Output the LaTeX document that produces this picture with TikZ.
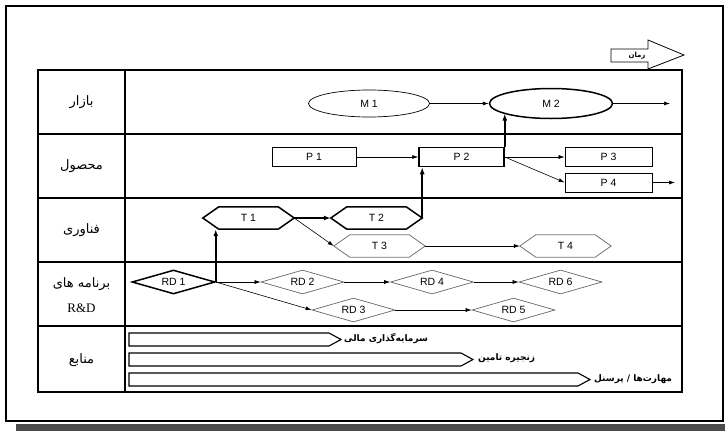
\documentclass[tikz,border=0pt]{standalone}
\usepackage{fontspec}
\setmainfont{Liberation Sans}
\newfontfamily\arabicfont[Script=Arabic]{DejaVu Sans}
\newfontfamily\rdserif{Liberation Serif}
\TeXXeTstate=1
\usetikzlibrary{shapes.geometric,arrows.meta}
\newcommand\hexdraw[2]{\draw[#2] (#1.west) -- ([xshift=16pt]#1.north west) -- ([xshift=-16pt]#1.north east) -- (#1.east) -- ([xshift=-16pt]#1.south east) -- ([xshift=16pt]#1.south west) -- cycle;}
\begin{document}
\begin{tikzpicture}[x=1pt,y=-1pt,
  lbl/.style={font=\arabicfont\fontsize{13}{15}\selectfont, inner sep=0pt},
  reslbl/.style={font=\arabicfont\bfseries\fontsize{9}{10}\selectfont, inner sep=0pt, anchor=west},
  nd/.style={font=\fontsize{10.5}{12}\selectfont, inner sep=0pt},
  box/.style={nd, draw, rectangle, line width=0.7pt, minimum width=85pt, minimum height=19pt},
  ell/.style={nd, draw, ellipse, line width=0.7pt, minimum width=121pt, minimum height=27pt},
  hexnode/.style={nd, minimum width=91pt, minimum height=22pt},
  dia/.style={nd, draw, diamond, aspect=3.4, line width=0.7pt, minimum width=83pt, minimum height=24pt},
  fade/.style={draw=black!60},
  heavy/.style={line width=1.5pt},
  conn/.style={-{Latex[length=6pt,width=4pt]}, line width=0.6pt},
  crit/.style={-{Latex[length=7pt,width=5pt]}, line width=1.6pt},
  grid/.style={line width=1.4pt},
  bar/.style={draw, line width=1.1pt, fill=white}
]
\useasboundingbox (0,0) rectangle (725,431);
% frame and shadow
\fill[black!70] (16,424) rectangle (725,431);
\draw[line width=2pt] (6,6) rectangle (723,421);

% time arrow
\draw[line width=0.8pt] (611,49) -- (648,49) -- (648,40) -- (684,55) -- (648,69) -- (648,62) -- (611,62) -- cycle;
\node[font=\arabicfont\bfseries\fontsize{7}{8}\selectfont, inner sep=0pt] (zaman) at (637,55.5) {\beginR زمان\endR};

% table
\draw[grid] (38,70) rectangle (682,392);
\draw[grid] (125,70) -- (125,392);
\foreach \yy in {134,198,262,326} \draw[grid] (38,\yy) -- (682,\yy);

% row labels
\node[lbl] (l1) at (81.5,102) {\beginR بازار\endR};
\node[lbl] (l2) at (81.5,166) {\beginR محصول\endR};
\node[lbl] (l3) at (81.5,230) {\beginR فناوری\endR};
\node[lbl] (l4) at (81.5,284) {\beginR برنامه های\endR};
\node[font=\rdserif\fontsize{13}{15}\selectfont, inner sep=0pt] (l4b) at (81.5,308) {R\&D};
\node[lbl] (l5) at (81.5,360) {\beginR منابع\endR};

% market
\node[ell] (M1) at (369,103.5) {M 1};
\node[ell, heavy, minimum width=123pt, minimum height=30pt] (M2) at (551,103.5) {M 2};
\coordinate (Mend) at (670,103.5);

% product
\node[box, minimum width=84pt] (P1) at (314,157) {P 1};
\node[box, heavy] (P2) at (461.5,157) {P 2};
\node[box, minimum width=87pt] (P3) at (608.5,157) {P 3};
\node[box, minimum width=87pt] (P4) at (608.5,182.5) {P 4};
\coordinate (Pend) at (675,182.5);

% technology
\node[hexnode] (T1) at (248.5,218) {T 1};
\node[hexnode] (T2) at (376.5,218) {T 2};
\node[hexnode] (T3) at (379.5,246) {T 3};
\node[hexnode] (T4) at (565.5,246) {T 4};
\hexdraw{T1}{heavy}
\hexdraw{T2}{heavy}
\hexdraw{T3}{line width=0.8pt, black!55}
\hexdraw{T4}{line width=0.8pt, black!55}

% R&D
\node[dia, heavy] (RD1) at (173.5,282) {RD 1};
\node[dia, fade] (RD2) at (302.5,282) {RD 2};
\node[dia, fade] (RD4) at (432,282) {RD 4};
\node[dia, fade] (RD6) at (560.5,282) {RD 6};
\node[dia, fade] (RD3) at (353.5,310) {RD 3};
\node[dia, fade] (RD5) at (513.5,310) {RD 5};

% resources bars
\draw[bar] (129,333) -- (329,333) -- (341,339.5) -- (329,346) -- (129,346) -- cycle;
\node[reslbl] (r1) at (344,338.5) {\beginR سرمایه‌گذاری مالی\endR};
\draw[bar] (129,353) -- (461,353) -- (473,359.5) -- (461,366) -- (129,366) -- cycle;
\node[reslbl] (r2) at (478,358.5) {\beginR زنجیره تامین\endR};
\draw[bar] (129,373) -- (578,373) -- (590,379.5) -- (578,386) -- (129,386) -- cycle;
\node[reslbl] (r3) at (594,379.5) {\beginR مهارت‌ها / پرسنل\endR};

% connectors
\draw[conn] (M1.east) -- (M2.west);
\draw[conn] (M2.east) -- (Mend);
\draw[conn] (P1.east) -- (P2.west);
\draw[conn] (P2.east) -- (P3.west);
\draw[conn] (P2.east) -- (P4.west);
\draw[conn] (P4.east) -- (Pend);
\draw[conn] (T1.east) -- (T3.west);
\draw[conn] (T3.east) -- (T4.west);
\draw[conn] (RD1.east) -- (RD2.west);
\draw[conn] (RD2.east) -- (RD4.west);
\draw[conn] (RD4.east) -- (RD6.west);
\draw[conn] (RD1.east) -- (RD3.west);
\draw[conn] (RD3.east) -- (RD5.west);
% critical path
\draw[crit] (RD1.east) -- (RD1.east |- T1.south);
\draw[crit] (T1.east) -- (T2.west);
\draw[crit] (T2.east) -- (T2.east |- P2.south);
\draw[crit] (P2.north east) -- (P2.north east |- M2.192);
\end{tikzpicture}
\end{document}
